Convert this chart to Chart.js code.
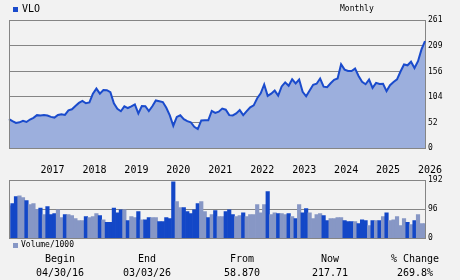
<!DOCTYPE html>
<html>
<head>
<meta charset="utf-8">
<script src="https://cdn.jsdelivr.net/npm/chart.js@4.4.1/dist/chart.umd.min.js"></script>
<style>
    html, body { margin: 0; padding: 0; background: #f2f2f2; }
    #wrap { position: relative; width: 460px; height: 280px; overflow: hidden;
            font-family: "DejaVu Sans Mono", monospace; color: #000; }
    #priceChart { position: absolute; left: 0; top: 0; }
    #volChart { position: absolute; left: 0; top: 170px; }
    .t { position: absolute; white-space: nowrap; line-height: 1; }
    .big { font-size: 10px; }
    .small { font-size: 8px; }
    .col { width: 80px; text-align: center; }
    .sq { position: absolute; width: 5px; height: 5px; }
</style>
</head>
<body>
<div id="wrap">
    <canvas id="priceChart" width="460" height="180"></canvas>
    <canvas id="volChart" width="460" height="76"></canvas>

    <div class="sq" style="left:13px; top:7px; background:#1a4bcc;"></div>
    <div class="t big" style="left:22px; top:4px;">VLO</div>
    <div class="t small" style="left:340px; top:5px;">Monthly</div>

    <div class="sq" style="left:13px; top:243px; background:#8797c5;"></div>
    <div class="t small" style="left:21px; top:241px;">Volume/1000</div>

    <div class="t big col" style="left:20px; top:254px;">Begin</div>
    <div class="t big col" style="left:107px; top:254px;">End</div>
    <div class="t big col" style="left:202px; top:254px;">From</div>
    <div class="t big col" style="left:290px; top:254px;">Now</div>
    <div class="t big col" style="left:375px; top:254px;">% Change</div>

    <div class="t big col" style="left:20px; top:268px;">04/30/16</div>
    <div class="t big col" style="left:107px; top:268px;">03/03/26</div>
    <div class="t big col" style="left:202px; top:268px;">58.870</div>
    <div class="t big col" style="left:290px; top:268px;">217.71</div>
    <div class="t big col" style="left:375px; top:268px;">269.8%</div>
</div>

<script>
// Monthly closes, Apr 2016 .. Mar 2026
const startYear = 2016;
const startMonth = 4;

const closes = [
    58.87, 54.6, 51.0, 52.3, 55.3, 53.0, 58.0, 61.6, 67.0,
    66.5, 67.5, 66.3, 63.5, 62.0, 67.5, 69.0, 67.5, 76.9, 78.9, 85.8, 91.9,
    96.0, 91.3, 92.8, 110.9, 121.2, 110.8, 118.3, 117.9, 113.8, 91.1, 79.9, 75.0,
    85.0, 81.5, 84.8, 89.0, 70.4, 85.6, 85.2, 75.3, 85.2, 96.9, 95.5, 93.7,
    82.0, 66.5, 45.4, 63.3, 66.6, 58.9, 54.8, 52.5, 43.3, 38.6, 56.1, 56.6,
    56.4, 75.5, 71.6, 74.0, 80.3, 78.1, 67.0, 66.5, 70.6, 77.3, 67.0, 75.1,
    82.9, 87.0, 101.5, 111.5, 129.6, 106.3, 110.8, 117.1, 106.8, 125.6, 133.8, 126.9,
    140.0, 131.7, 139.6, 114.4, 105.5, 117.3, 128.9, 131.0, 141.7, 125.0, 124.0, 132.0,
    138.9, 141.6, 170.7, 159.9, 157.1, 156.8, 161.9, 146.9, 135.0, 130.0, 139.6, 122.6,
    132.9, 130.4, 131.0, 116.1, 128.0, 134.4, 140.0, 156.0, 170.3, 168.6, 176.0, 163.0,
    177.0, 201.0, 217.71
];

// Monthly volume / 1000
const volumes = [
    107, 114, 137, 140, 134, 124, 111, 114, 95, 99, 78, 104, 78, 81, 94, 68, 78, 78, 75, 65,
    58, 58, 71, 68, 71, 81, 75, 61, 52, 52, 99, 84, 94, 94, 58, 71, 68, 88, 61, 61,
    68, 68, 68, 55, 55, 68, 65, 186, 121, 101, 101, 88, 81, 94, 114, 121, 88, 68, 78, 91,
    71, 71, 88, 94, 78, 71, 75, 84, 71, 78, 78, 111, 84, 111, 154, 78, 84, 81, 81, 78,
    81, 71, 65, 111, 84, 98, 84, 65, 78, 81, 75, 58, 65, 65, 68, 68, 58, 55, 55, 55,
    48, 61, 58, 42, 58, 58, 58, 71, 84, 58, 61, 71, 42, 65, 52, 45, 58, 78, 48, 48
];

const priceTicks = [0, 52, 104, 156, 209, 261];
const volumeTicks = [0, 96, 192];

const mono = "DejaVu Sans Mono";
const lineBlue = "#1a4bcc";
const fillBlue = "#9cafdd";
const volDown = "#1347c7";
const volUp = "#8797c5";
const gridGray = "#858585";

// month labels for the category axis
const months = [];
for (let i = 0; i < closes.length; i++) {
    const k = startMonth - 1 + i;
    months.push((startYear + Math.floor(k / 12)) + "-" + String(k % 12 + 1).padStart(2, "0"));
}

// down months get the dark bar
const volColors = volumes.map((v, i) => (i > 0 && closes[i] < closes[i - 1]) ? volDown : volUp);

// left edge of the plot frame
const leftEdge = {
    id: "leftEdge",
    afterDraw(chart) {
        const a = chart.chartArea;
        const ctx = chart.ctx;
        ctx.save();
        ctx.strokeStyle = gridGray;
        ctx.lineWidth = 1;
        ctx.beginPath();
        ctx.moveTo(a.left + 0.5, a.top);
        ctx.lineTo(a.left + 0.5, a.bottom);
        ctx.stroke();
        ctx.restore();
    }
};

new Chart(document.getElementById("priceChart"), {
    type: "line",
    data: {
        labels: months,
        datasets: [{
            data: closes,
            borderColor: lineBlue,
            backgroundColor: fillBlue,
            borderWidth: 2,
            fill: "origin",
            pointRadius: 0,
            tension: 0
        }]
    },
    options: {
        responsive: false,
        animation: false,
        layout: { padding: { left: 9, top: 20, right: 0, bottom: 0 } },
        plugins: { legend: { display: false }, tooltip: { enabled: false } },
        scales: {
            x: {
                type: "category",
                offset: false,
                grid: { display: false },
                border: { display: true, color: gridGray, width: 1 },
                ticks: {
                    autoSkip: false,
                    maxRotation: 0,
                    align: "start",
                    padding: 8,
                    color: "#000",
                    font: { family: mono, size: 10 },
                    callback: (v, i) => months[i].endsWith("-01") ? months[i].slice(0, 4) : null
                },
                afterFit: s => { s.height = 32; }
            },
            y: {
                position: "right",
                min: 0,
                max: 261,
                grid: { color: gridGray, drawTicks: false },
                border: { display: true, color: gridGray },
                afterBuildTicks: s => { s.ticks = priceTicks.map(v => ({ value: v })); },
                ticks: { padding: 3, color: "#000", font: { family: mono, size: 8 } },
                afterFit: s => { s.width = 35; }
            }
        }
    },
    plugins: [leftEdge]
});

new Chart(document.getElementById("volChart"), {
    type: "bar",
    data: {
        labels: months,
        datasets: [{
            data: volumes,
            backgroundColor: volColors,
            borderWidth: 0,
            barPercentage: 1,
            categoryPercentage: 1
        }]
    },
    options: {
        responsive: false,
        animation: false,
        layout: { padding: { left: 9, top: 10, right: 0, bottom: 7 } },
        plugins: { legend: { display: false }, tooltip: { enabled: false } },
        scales: {
            x: { type: "category", offset: false, display: false },
            y: {
                position: "right",
                min: 0,
                max: 192,
                grid: { color: gridGray, drawTicks: false },
                border: { display: true, color: gridGray },
                afterBuildTicks: s => { s.ticks = volumeTicks.map(v => ({ value: v })); },
                ticks: { padding: 3, color: "#000", font: { family: mono, size: 8 } },
                afterFit: s => { s.width = 35; }
            }
        }
    },
    plugins: [leftEdge]
});
</script>
</body>
</html>
